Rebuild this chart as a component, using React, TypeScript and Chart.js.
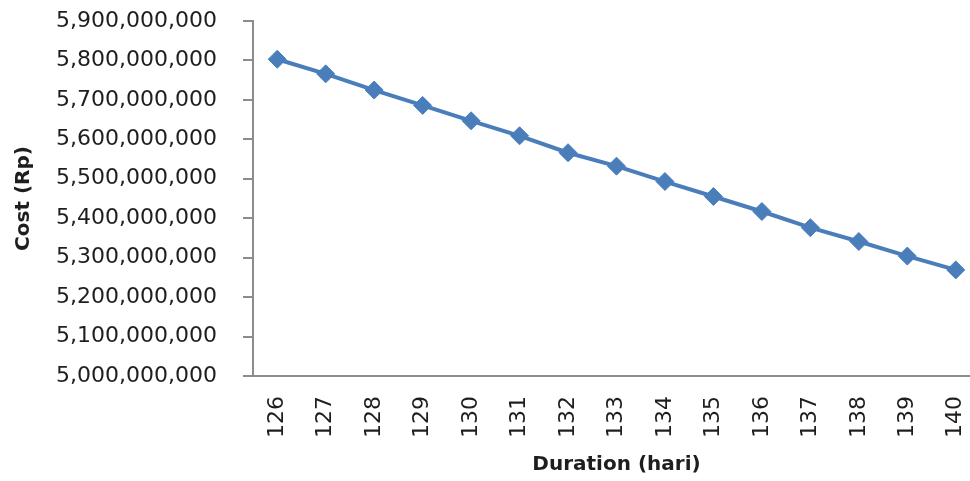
import React, { useEffect, useRef } from "react";
import { Chart, registerables } from "chart.js";

Chart.register(...registerables);

// Project duration in days
const durations: string[] = ["126", "127", "128", "129", "130", "131", "132", "133", "134", "135", "136", "137", "138", "139", "140"];

// Total project cost (Rp) for each duration
const costs: number[] = [
  5803000000, 5766000000, 5725000000, 5686000000, 5647000000,
  5609000000, 5566000000, 5532000000, 5493000000, 5455000000,
  5417000000, 5376000000, 5341000000, 5304000000, 5269000000,
];

const yMin = 5000000000;
const yMax = 5900000000;
const yStep = 100000000;

const LINE_BLUE = "#4A7EBB";
const AXIS_GREY = "#8C8C8C";
const TEXT = "#1e1e1e";
const FONT = "'DejaVu Sans', Tahoma, sans-serif";

export default function App() {
  const canvasRef = useRef<HTMLCanvasElement | null>(null);

  useEffect(() => {
    const canvas = canvasRef.current;
    if (!canvas) return;
    const chart = new Chart(canvas, {
      type: "line",
      data: {
        labels: durations,
        datasets: [
          {
            label: "Cost",
            data: costs,
            borderColor: LINE_BLUE,
            backgroundColor: LINE_BLUE,
            borderWidth: 4,
            pointStyle: "rectRot",
            pointRadius: 9,
            pointBackgroundColor: LINE_BLUE,
            pointBorderColor: LINE_BLUE,
            pointBorderWidth: 1,
            tension: 0,
          },
        ],
      },
      options: {
        responsive: false,
        animation: false,
        devicePixelRatio: 1,
        layout: { padding: { top: 21, right: 1, left: 0, bottom: 0 } },
        plugins: {
          legend: { display: false },
          tooltip: { enabled: false },
        },
        scales: {
          x: {
            type: "category",
            offset: true,
            grid: { display: true, drawOnChartArea: false, drawTicks: false },
            border: { display: true, color: AXIS_GREY, width: 2 },
            ticks: {
              minRotation: 90,
              maxRotation: 90,
              autoSkip: false,
              padding: 20,
              color: TEXT,
              font: { family: FONT, size: 22 },
            },
            title: {
              display: true,
              text: "Duration (hari)",
              color: TEXT,
              font: { family: FONT, size: 20, weight: "bold" },
              padding: { top: 0, bottom: 4 },
            },
            afterFit: (scale: any) => {
              scale.height = 105;
              scale.paddingLeft = 0;
              scale.paddingRight = 0;
            },
          },
          y: {
            min: yMin,
            max: yMax,
            grid: {
              display: true,
              drawOnChartArea: false,
              drawTicks: true,
              tickLength: 10,
              color: AXIS_GREY,
              lineWidth: 2,
            },
            border: { display: true, color: AXIS_GREY, width: 2 },
            ticks: {
              stepSize: yStep,
              padding: 26,
              color: TEXT,
              font: { family: FONT, size: 22 },
              callback: (v: any) => Number(v).toLocaleString("en-US"),
            },
            title: {
              display: true,
              text: "Cost (Rp)",
              color: TEXT,
              font: { family: FONT, size: 20, weight: "bold" },
              padding: { top: 12, bottom: 0 },
            },
            afterFit: (scale: any) => {
              scale.width = 253;
              scale.paddingTop = 0;
              scale.paddingBottom = 0;
            },
          },
        },
      },
    });
    return () => chart.destroy();
  }, []);

  return (
    <div
      style={{
        position: "absolute",
        left: 0,
        top: 0,
        width: 970,
        height: 481,
        overflow: "hidden",
        background: "#ffffff",
      }}
    >
      <canvas ref={canvasRef} width={990} height={481} style={{ width: 990, height: 481, display: "block" }} />
    </div>
  );
}
